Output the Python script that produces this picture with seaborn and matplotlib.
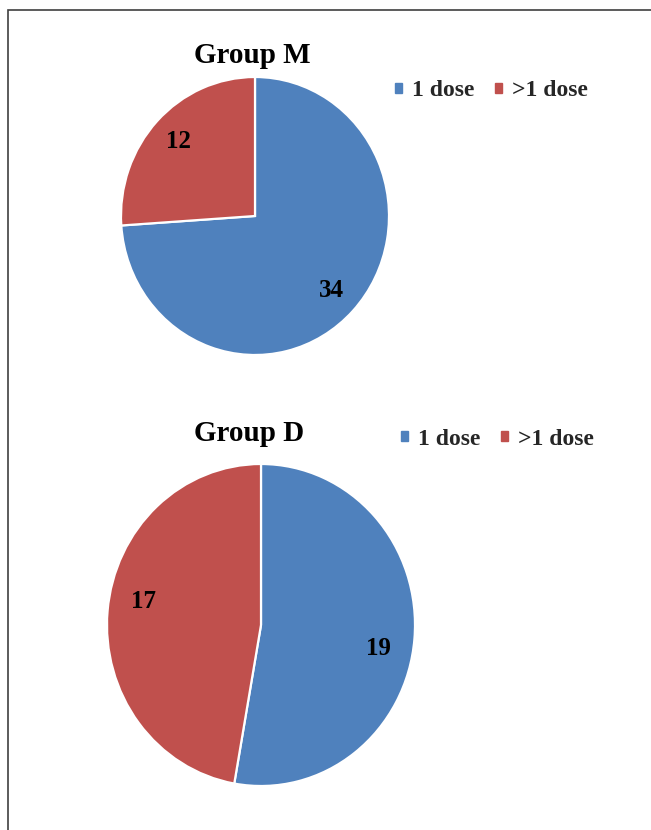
import matplotlib
matplotlib.use("Agg")
import numpy as np
import matplotlib.pyplot as plt
import matplotlib.patches as mpatches
import seaborn as sns

sns.set_theme(style="white")
plt.rcParams['font.family'] = ['Liberation Serif', 'DejaVu Serif']
plt.rcParams['font.weight'] = 'bold'

categories = ["1 dose", ">1 dose"]
group_m_values = [34, 12]
group_d_values = [19, 17]
titles = ["Group M", "Group D"]
colors = ["#4F81BD", "#C0504D"]

W, H = 651, 830
fig = plt.figure(figsize=(W / 100, H / 100), dpi=100)

# axes boxes (pixel-based layout): left, top, width, height
boxes = [(121, 77, 268, 278), (107, 464, 308, 322)]
title_pos = [(252, 63), (249, 441)]
legend_pos = [(395, 91), (401, 439)]
label_rot = [0, -6]  # degrees, best-fit label placement like the original

for vals, title, (bx, by, bw, bh), (tx, ty), (lx, ly), rot in zip(
        [group_m_values, group_d_values], titles, boxes, title_pos,
        legend_pos, label_rot):
    ax = fig.add_axes([bx / W, 1 - (by + bh) / H, bw / W, bh / H])
    wedges, texts, autotexts = ax.pie(
        vals, colors=colors, startangle=90, counterclock=False,
        autopct=lambda p, v=vals: f"{round(p * sum(v) / 100):d}",
        pctdistance=0.78,
        wedgeprops=dict(edgecolor="white", linewidth=1.6),
        textprops=dict(fontsize=18, fontweight="bold", color="black"))
    r = np.deg2rad(rot)
    for t in autotexts:
        x, y = t.get_position()
        t.set_position((x * np.cos(r) - y * np.sin(r),
                        x * np.sin(r) + y * np.cos(r)))
    ax.set_aspect("auto")
    ax.set_xlim(-1, 1)
    ax.set_ylim(-1, 1)
    ax.axis("off")
    fig.text(tx / W, 1 - ty / H, title, ha="center", va="baseline",
             fontsize=21, fontweight="bold", color="black")
    handles = [mpatches.Patch(color=c) for c in colors]
    fig.legend(handles, categories, loc="center left",
               bbox_to_anchor=(lx / W, 1 - ly / H), ncol=2, frameon=False,
               borderpad=0, borderaxespad=0, handlelength=0.3, handleheight=0.3,
               handletextpad=0.4, columnspacing=0.9,
               prop=dict(size=17, weight="bold"))

# outer frame (partially clipped by the image edges)
frame = mpatches.Rectangle((7.5 / W, -0.1), 1.2, 1 - 10.5 / H + 0.1,
                           transform=fig.transFigure, fill=False,
                           edgecolor="#404040", linewidth=1.2)
fig.patches.append(frame)

fig.savefig("out.png", dpi=100)
